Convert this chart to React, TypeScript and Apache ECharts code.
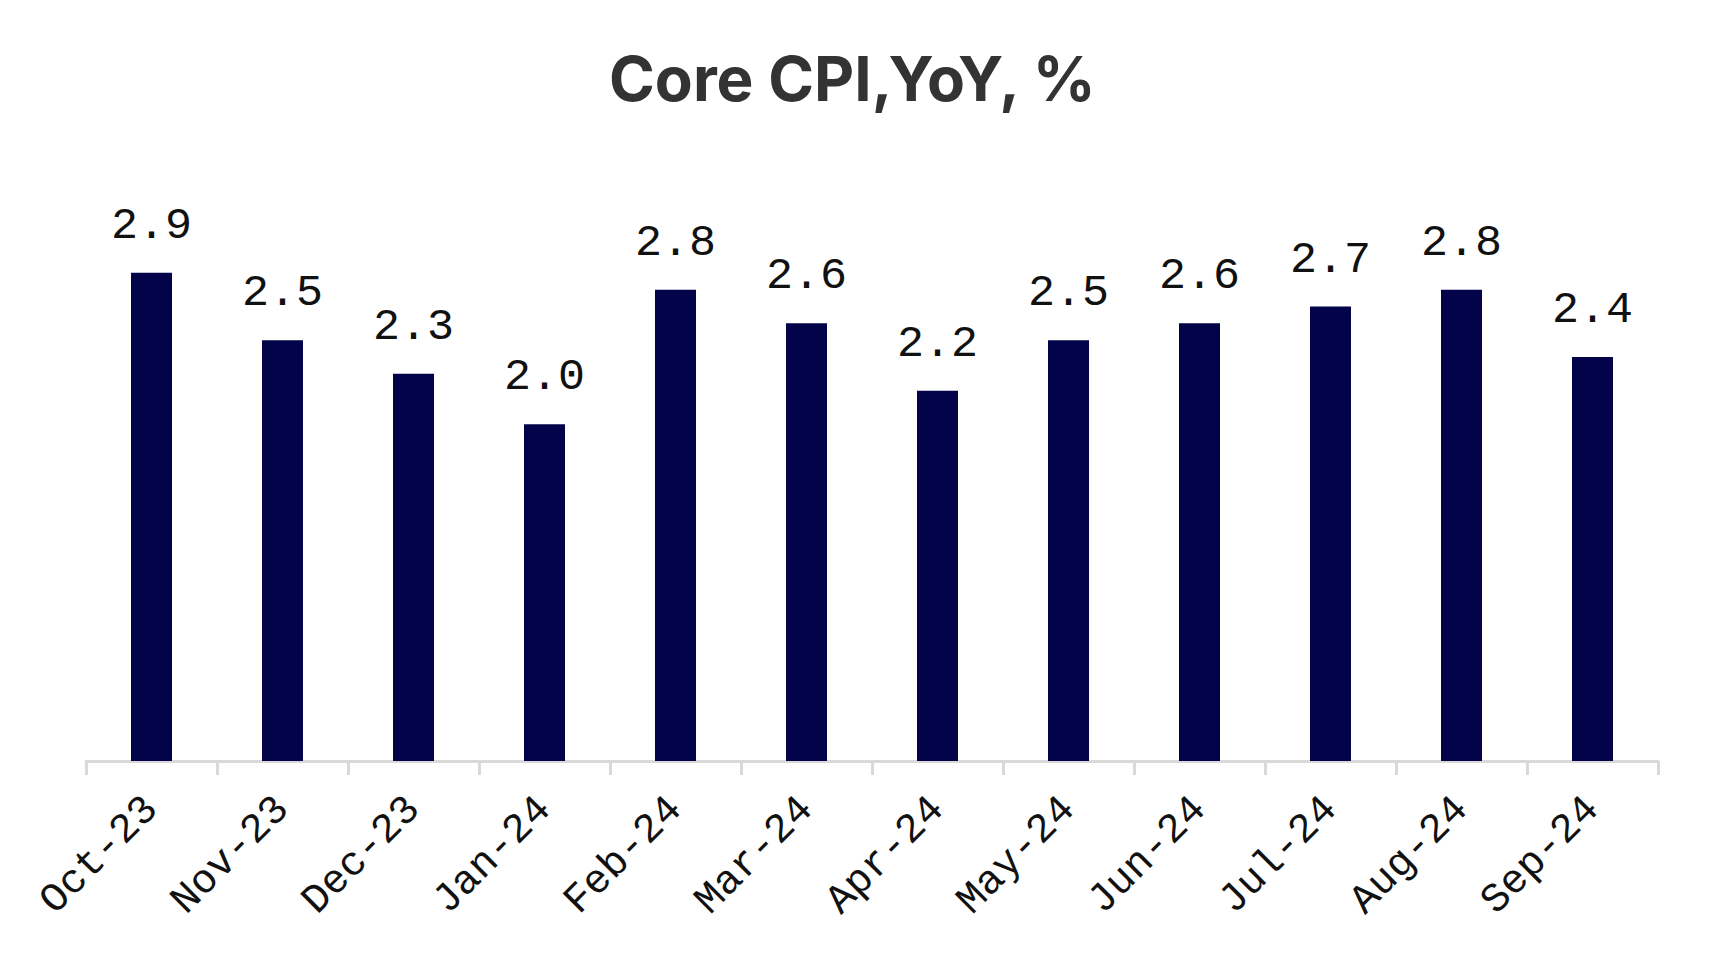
import React, { useEffect, useRef } from "react";
import * as echarts from "echarts";

const categories = ["Oct-23", "Nov-23", "Dec-23", "Jan-24", "Feb-24", "Mar-24", "Apr-24", "May-24", "Jun-24", "Jul-24", "Aug-24", "Sep-24"];
const values = [2.9, 2.5, 2.3, 2.0, 2.8, 2.6, 2.2, 2.5, 2.6, 2.7, 2.8, 2.4];
const titleText = "Core CPI,YoY, %";

export default function App() {
  const ref = useRef<HTMLDivElement>(null);
  useEffect(() => {
    const chart = echarts.init(ref.current!, null, { renderer: "svg" });
    chart.setOption({
      animation: false,
      backgroundColor: "#ffffff",
      title: {
        text: titleText,
        left: 604,
        top: 42,
        textStyle: { fontFamily: "Inter", fontWeight: 700, fontSize: 62, color: "#333333" },
      },
      grid: { left: 86, right: 56, top: 256, bottom: 206 },
      xAxis: {
        type: "category",
        data: categories,
        axisLine: { lineStyle: { color: "#d9d9d9", width: 3 } },
        axisTick: { show: true, length: 14, lineStyle: { color: "#d9d9d9", width: 3 } },
        axisLabel: {
          rotate: 45,
          margin: 42,
          fontFamily: "Liberation Mono",
          fontSize: 41,
          color: "#111111",
          interval: 0,
        },
      },
      yAxis: { type: "value", min: 0, max: 3, show: false, splitLine: { show: false } },
      series: [
        {
          type: "bar",
          data: values,
          barWidth: 41,
          itemStyle: { color: "#03034a" },
          label: {
            show: true,
            position: "top",
            distance: 24,
            formatter: (p: any) => p.value.toFixed(1),
            fontFamily: "Liberation Mono",
            fontSize: 45,
            color: "#111111",
          },
        },
      ],
    });
    return () => chart.dispose();
  }, []);
  return <div ref={ref} style={{ position: "fixed", left: 0, top: 0, width: 1714, height: 967 }} />;
}
